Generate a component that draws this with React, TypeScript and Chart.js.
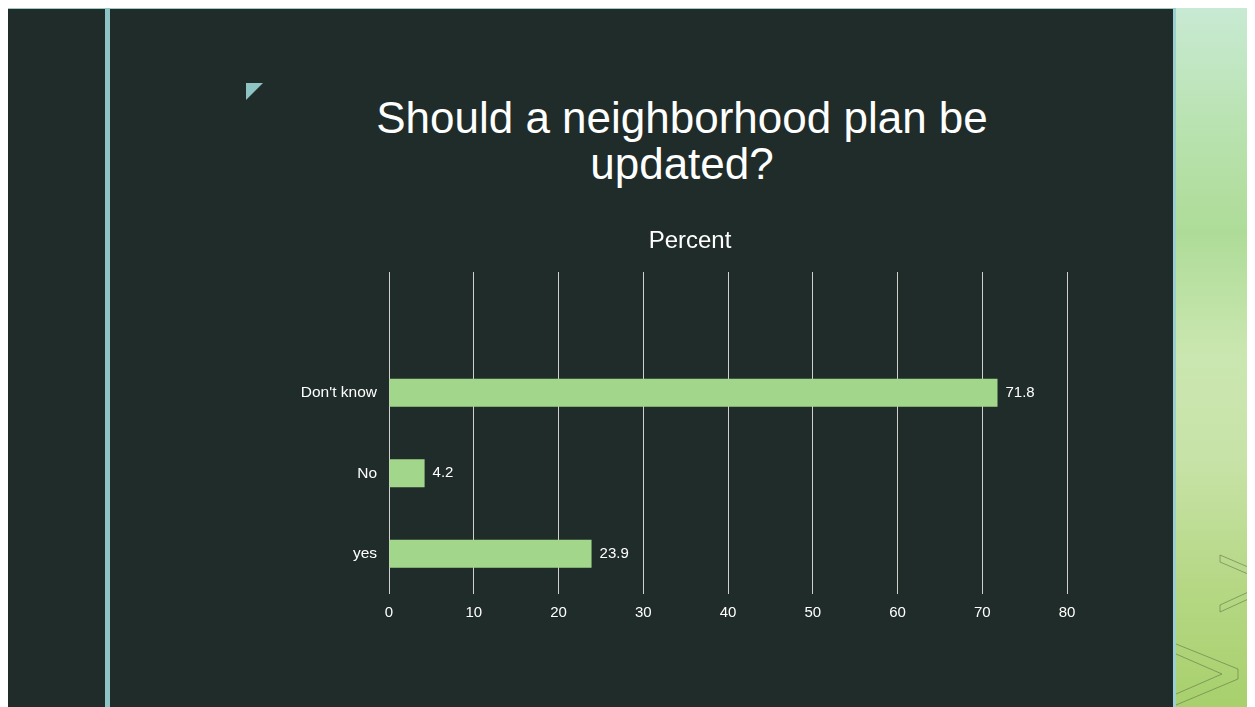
import React, { useEffect, useRef } from "react";
import { Chart, registerables } from "chart.js";

Chart.register(...registerables);

const categories: string[] = ["", "Don't know", "No", "yes"];
const percentValues: (number | null)[] = [null, 71.8, 4.2, 23.9];
const xTickMax = 80;
const xTickStep = 10;
const chartTitle = "Percent";
const slideTitleLines: string[] = ["Should a neighborhood plan be", "updated?"];

const BG = "#202c29";
const BAR = "#a2d78b";
const ACCENT = "#8ec4c4";
const FONT = "'Liberation Sans', Arial, sans-serif";

const valueLabelPlugin = {
  id: "valueLabels",
  afterDatasetsDraw(chart: any) {
    const ctx = chart.ctx;
    const meta = chart.getDatasetMeta(0);
    const data = chart.data.datasets[0].data;
    ctx.save();
    ctx.fillStyle = "#ffffff";
    ctx.font = "15px " + FONT;
    ctx.textAlign = "left";
    ctx.textBaseline = "middle";
    meta.data.forEach((el: any, i: number) => {
      const v = data[i];
      if (v === null || v === undefined) return;
      ctx.fillText(String(v), el.x + 8, el.y);
    });
    ctx.restore();
  },
};

const centeredTitlePlugin = {
  id: "centeredTitle",
  afterDraw(chart: any) {
    const ctx = chart.ctx;
    ctx.save();
    ctx.fillStyle = "#ffffff";
    ctx.font = "24px " + FONT;
    ctx.textAlign = "center";
    ctx.textBaseline = "middle";
    ctx.fillText(chartTitle, chart.width / 2, 19);
    ctx.restore();
  },
};

export default function App() {
  const canvasRef = useRef<HTMLCanvasElement | null>(null);

  useEffect(() => {
    document.documentElement.style.overflow = "hidden";
    document.body.style.overflow = "hidden";
    const canvas = canvasRef.current;
    if (!canvas) return;
    const chart = new Chart(canvas, {
      type: "bar",
      data: {
        labels: categories,
        datasets: [
          {
            label: chartTitle,
            data: percentValues,
            backgroundColor: BAR,
            borderWidth: 0,
            categoryPercentage: 1,
            barPercentage: 0.35,
          },
        ],
      },
      options: {
        indexAxis: "y",
        responsive: false,
        animation: false,
        layout: { padding: { left: 0, right: 43, top: 50, bottom: 0 } },
        plugins: {
          legend: { display: false },
          tooltip: { enabled: false },
          title: { display: false },
        },
        scales: {
          x: {
            type: "linear",
            min: 0,
            max: xTickMax,
            ticks: {
              stepSize: xTickStep,
              color: "#ffffff",
              padding: 10,
              font: { family: FONT, size: 15 },
            },
            grid: { color: "#d0d0d0", lineWidth: 1, drawTicks: false },
            border: { display: false },
          },
          y: {
            type: "category",
            afterFit: (s: any) => {
              s.width = 119;
            },
            ticks: {
              color: "#ffffff",
              padding: 12,
              font: { family: FONT, size: 15.5 },
            },
            grid: { display: false, drawTicks: false },
            border: { display: false },
          },
        },
      },
      plugins: [valueLabelPlugin, centeredTitlePlugin],
    } as any);
    return () => chart.destroy();
  }, []);

  return (
    <div
      style={{
        position: "relative",
        width: 1247,
        height: 699,
        background: BG,
        overflow: "hidden",
        fontFamily: FONT,
      }}
    >
      <div style={{ position: "absolute", left: 0, top: 0, width: 1165, height: 1, background: "#9fc9c4" }} />
      <div style={{ position: "absolute", left: 97, top: 0, width: 5, height: 699, background: ACCENT }} />
      <svg style={{ position: "absolute", left: 238, top: 75 }} width={18} height={18}>
        <polygon points="0,0 17,0 0,17" fill={ACCENT} />
      </svg>
      <div
        style={{
          position: "absolute",
          left: 324,
          top: 87,
          width: 700,
          textAlign: "center",
          color: "#ffffff",
          fontSize: 44,
          lineHeight: "46px",
        }}
      >
        {slideTitleLines.map((l, i) => (
          <div key={i}>{l}</div>
        ))}
      </div>
      <canvas
        ref={canvasRef}
        width={840}
        height={410}
        style={{ position: "absolute", left: 262, top: 214, width: 840, height: 410 }}
      />
      <div style={{ position: "absolute", left: 1165, top: 0, width: 3, height: 699, background: "#9ccfcf" }} />
      <div
        style={{
          position: "absolute",
          left: 1168,
          top: 0,
          width: 79,
          height: 699,
          background:
            "linear-gradient(180deg, #c8ead3 0%, #b8e2ae 18%, #aedc98 32%, #cbe7b1 50%, #c8e3a8 64%, #b6d886 82%, #a8d06c 100%)",
        }}
      />
      <svg style={{ position: "absolute", left: 1168, top: 0 }} width={79} height={699}>
        <polyline
          points="79,562 44,547 44,554 79,569"
          fill="none"
          stroke="rgba(90,110,70,0.55)"
          strokeWidth={1}
        />
        <polyline
          points="79,581 44,597 44,604 79,588"
          fill="none"
          stroke="rgba(90,110,70,0.55)"
          strokeWidth={1}
        />
        <polyline
          points="0,636 62,661 62,671 0,697"
          fill="none"
          stroke="rgba(90,110,70,0.55)"
          strokeWidth={1}
        />
        <polyline
          points="0,646 46,666 0,686"
          fill="none"
          stroke="rgba(90,110,70,0.55)"
          strokeWidth={1}
        />
      </svg>
    </div>
  );
}
